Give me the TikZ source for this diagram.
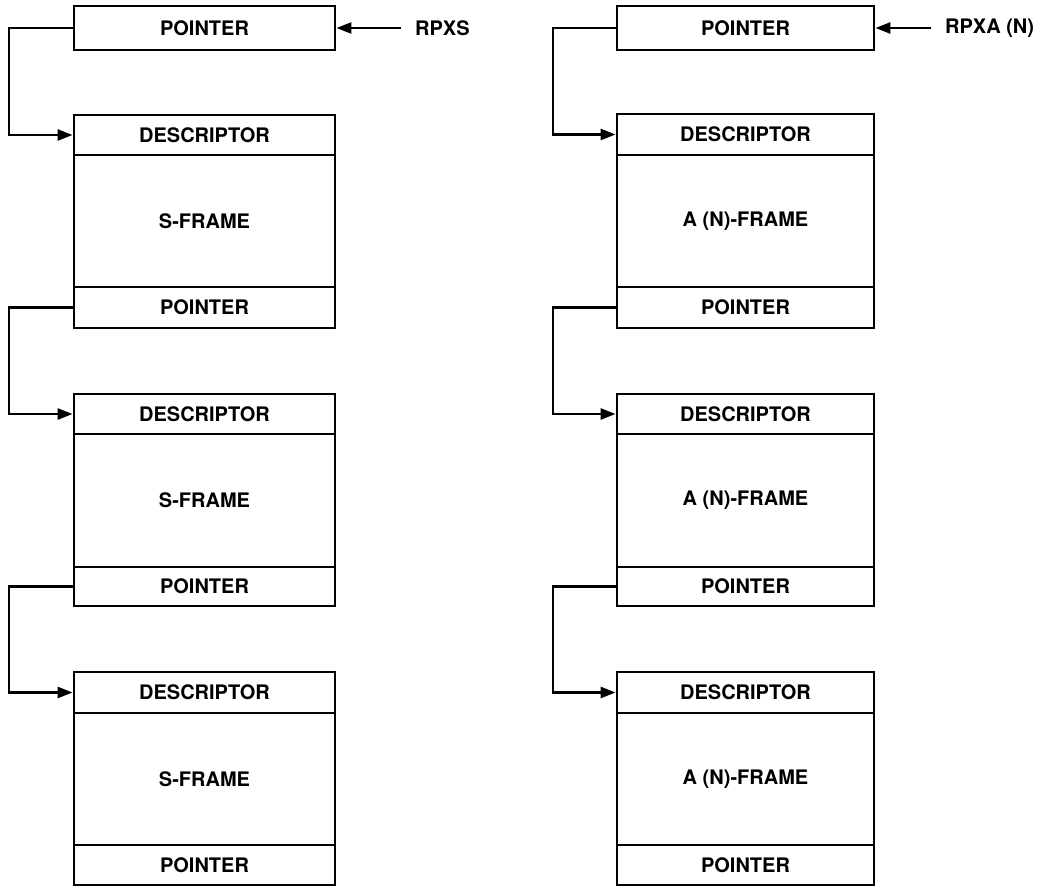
\documentclass[tikz,border=0pt]{standalone}
\usepackage{fontspec}
\setmainfont{TeX Gyre Heros}
\usetikzlibrary{arrows.meta}
\begin{document}
\begin{tikzpicture}[x=1pt,y=-1pt,
  txt/.style={font=\fontsize{20}{24}\selectfont\bfseries},
  cell/.style={draw,line width=2.8pt,minimum width=#1,inner sep=0pt,txt},
  conn/.style={line width=2.6pt,-{Triangle[length=15pt,width=11pt]}},
  lbl/.style={anchor=west,inner sep=0pt,txt}]
\useasboundingbox (0,0) rectangle (1044,886);
% ---------- left column ----------
\begin{scope}[every node/.append style={cell=261pt}]
\node[minimum height=44pt] (Lp0) at (204.5,28) {POINTER};
\node[minimum height=40pt] (Ld1) at (204.5,135) {DESCRIPTOR};
\node[minimum height=132pt] (Lb1) at (204.5,221) {S-FRAME};
\node[minimum height=41pt] (Lp1) at (204.5,307.5) {POINTER};
\node[minimum height=40pt] (Ld2) at (204.5,414) {DESCRIPTOR};
\node[minimum height=133pt] (Lb2) at (204.5,500.5) {S-FRAME};
\node[minimum height=39pt] (Lp2) at (204.5,586.5) {POINTER};
\node[minimum height=41pt] (Ld3) at (204.5,692.5) {DESCRIPTOR};
\node[minimum height=132pt] (Lb3) at (204.5,779) {S-FRAME};
\node[minimum height=40pt] (Lp3) at (204.5,865) {POINTER};
\end{scope}
\node[lbl] (rpxs) at (415,28) {RPXS};
\coordinate (lx) at (9,0);
\draw[conn] (rpxs.west) ++(-14pt,0) coordinate (rs) (rs) -- (Lp0.east);
\draw[conn] (Lp0.west) -- (Lp0.west -| lx) |- (Ld1.west);
\draw[conn] (Lp1.west) -- (Lp1.west -| lx) |- (Ld2.west);
\draw[conn] (Lp2.west) -- (Lp2.west -| lx) |- (Ld3.west);
% ---------- right column ----------
\begin{scope}[every node/.append style={cell=257pt}]
\node[minimum height=44pt] (Rp0) at (745.5,28) {POINTER};
\node[minimum height=41pt] (Rd1) at (745.5,134.5) {DESCRIPTOR};
\node[minimum height=132pt] (Rb1) at (745.5,221) {A (N)-FRAME};
\node[minimum height=41pt] (Rp1) at (745.5,307.5) {POINTER};
\node[minimum height=40pt] (Rd2) at (745.5,414) {DESCRIPTOR};
\node[minimum height=133pt] (Rb2) at (745.5,500.5) {A (N)-FRAME};
\node[minimum height=39pt] (Rp2) at (745.5,586.5) {POINTER};
\node[minimum height=41pt] (Rd3) at (745.5,692.5) {DESCRIPTOR};
\node[minimum height=132pt] (Rb3) at (745.5,779) {A (N)-FRAME};
\node[minimum height=40pt] (Rp3) at (745.5,865) {POINTER};
\end{scope}
\node[lbl] (rpxa) at (945,28) {RPXA (N)};
\coordinate (rx) at (553,0);
\draw[conn] (rpxa.west) ++(-14pt,0) coordinate (ra) (ra) -- (Rp0.east);
\draw[conn] (Rp0.west) -- (Rp0.west -| rx) |- (Rd1.west);
\draw[conn] (Rp1.west) -- (Rp1.west -| rx) |- (Rd2.west);
\draw[conn] (Rp2.west) -- (Rp2.west -| rx) |- (Rd3.west);
\end{tikzpicture}
\end{document}
